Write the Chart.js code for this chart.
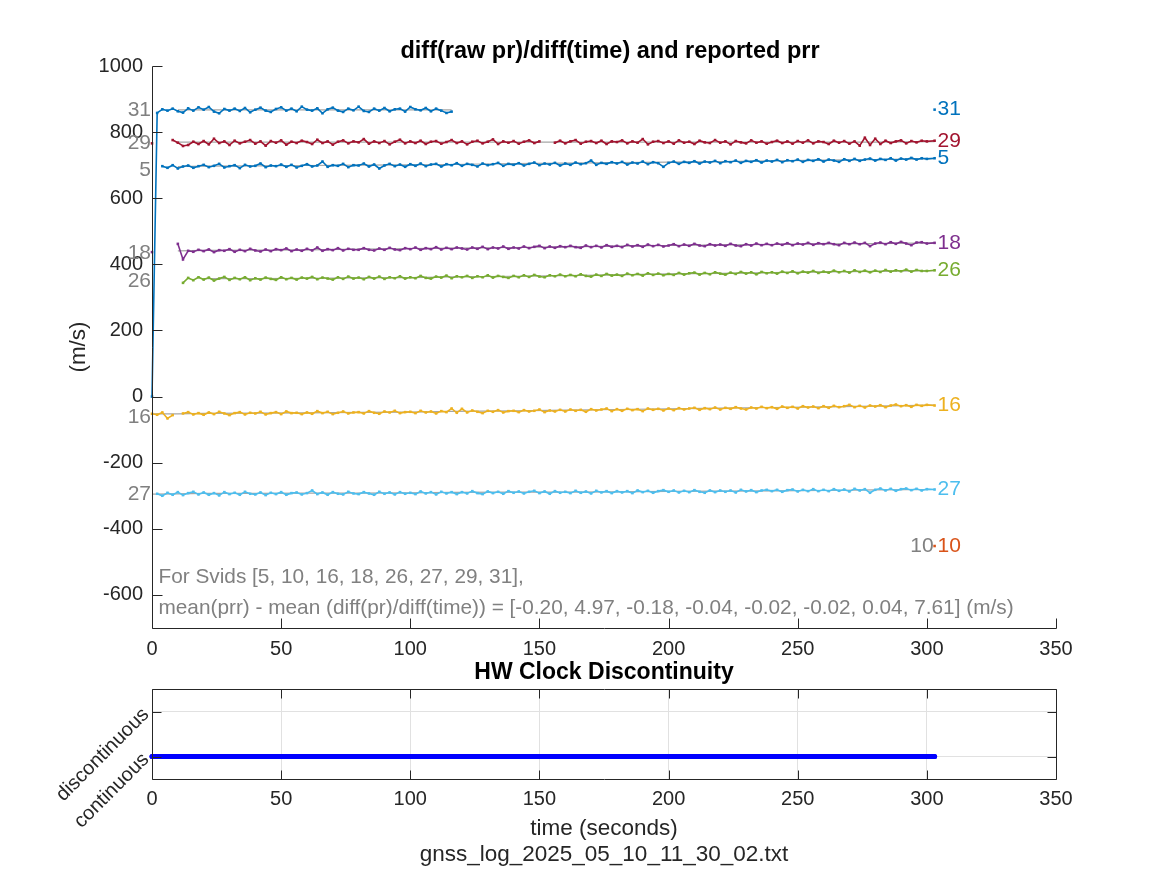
<!DOCTYPE html>
<html><head><meta charset="utf-8">
<script src="https://cdn.jsdelivr.net/npm/chart.js@4.4.1/dist/chart.umd.min.js"></script>
<style>
html,body{margin:0;padding:0;background:#fff;}
#wrap{position:relative;width:1167px;height:875px;overflow:hidden;background:#fff;}
canvas{position:absolute;left:0;}
#c1{top:0;} #c2{top:655px;}
</style></head><body>
<div id="wrap"><canvas id="c1" width="1167" height="662"></canvas><canvas id="c2" width="1167" height="220"></canvas></div>
<script>
const FONT = "'Liberation Sans', Arial, Helvetica, sans-serif";
const topTitle = 'diff(raw pr)/diff(time) and reported prr';
const bottomTitle = 'HW Clock Discontinuity';
const yLabelTop = '(m/s)';
const xLabelBottom = ['time (seconds)', 'gnss_log_2025_05_10_11_30_02.txt'];
const annotLines = ['For Svids [5, 10, 16, 18, 26, 27, 29, 31],',
  'mean(prr) - mean (diff(pr)/diff(time)) = [-0.20, 4.97, -0.18, -0.04, -0.02, -0.02, 0.04, 7.61] (m/s)'];
const annotX = 2.5;
const annotY = [-548, -641];

const xTicks = [0, 50, 100, 150, 200, 250, 300, 350];
const yTicks = [-600, -400, -200, 0, 200, 400, 600, 800, 1000];
const hwTicks = [0, 1];
const hwTickLabels = ['continuous', 'discontinuous'];

const svids = [5, 10, 16, 18, 26, 27, 29, 31];
const colors = ['#0072BD', '#D95319', '#EDB120', '#7E2F8E', '#77AC30', '#4DBEEE', '#A2142F', '#0072BD'];
const leftLabelTime = [0, 303, 0, 0, 0, 0, 0, 0];
const leftLabelValue = [686, -452, -62, 433, 350, -295, 766, 867];

const time = [0,2,4,6,8,10,12,14,16,18,
20,22,24,26,28,30,32,34,36,38,
40,42,44,46,48,50,52,54,56,58,
60,62,64,66,68,70,72,74,76,78,
80,82,84,86,88,90,92,94,96,98,
100,102,104,106,108,110,112,114,116,118,
120,122,124,126,128,130,132,134,136,138,
140,142,144,146,148,150,152,154,156,158,
160,162,164,166,168,170,172,174,176,178,
180,182,184,186,188,190,192,194,196,198,
200,202,204,206,208,210,212,214,216,218,
220,222,224,226,228,230,232,234,236,238,
240,242,244,246,248,250,252,254,256,258,
260,262,264,266,268,270,272,274,276,278,
280,282,284,286,288,290,292,294,296,298,
300,303];

const s5 = [null,null,697,692,700,690,696,699,692,697,
701,694,698,704,693,697,700,691,701,696,
698,705,694,699,697,702,695,701,693,698,
703,696,699,711,695,700,698,704,694,700,
699,705,696,702,690,699,704,697,702,695,
703,698,705,697,702,704,696,703,700,706,
698,704,701,696,705,700,703,707,698,704,
701,706,699,704,708,700,705,702,707,699,
705,701,708,703,706,714,701,707,704,709,
705,710,702,708,705,711,703,709,706,695,
707,711,704,710,707,712,705,711,708,713,
706,712,709,714,707,713,710,715,708,714,
711,716,709,715,712,717,710,716,713,718,
711,717,714,710,718,713,719,713,717,720,
714,719,716,721,714,720,717,722,717,721,
719,721];

const s10 = [null,null,null,null,null,null,null,null,null,null,
null,null,null,null,null,null,null,null,null,null,
null,null,null,null,null,null,null,null,null,null,
null,null,null,null,null,null,null,null,null,null,
null,null,null,null,null,null,null,null,null,null,
null,null,null,null,null,null,null,null,null,null,
null,null,null,null,null,null,null,null,null,null,
null,null,null,null,null,null,null,null,null,null,
null,null,null,null,null,null,null,null,null,null,
null,null,null,null,null,null,null,null,null,null,
null,null,null,null,null,null,null,null,null,null,
null,null,null,null,null,null,null,null,null,null,
null,null,null,null,null,null,null,null,null,null,
null,null,null,null,null,null,null,null,null,null,
null,null,null,null,null,null,null,null,null,null,
null,-452];

const s16 = [-52,-55,-48,-66,-56,null,-51,-47,-54,-50,
-55,-48,-53,-46,-51,-56,-50,-47,-54,-49,
-51,-46,-54,-50,-47,-53,-45,-50,-49,-53,
-48,-52,-44,-50,-46,-53,-49,-45,-51,-48,
-47,-51,-44,-49,-52,-45,-48,-43,-50,-47,
-46,-50,-43,-48,-45,-51,-44,-47,-36,-49,
-37,-48,-42,-46,-50,-43,-46,-41,-48,-44,
-43,-47,-41,-45,-43,-39,-47,-42,-45,-40,
-45,-39,-43,-40,-46,-38,-42,-39,-36,-44,
-38,-43,-37,-41,-38,-44,-36,-40,-37,-42,
-36,-41,-35,-39,-36,-34,-40,-35,-38,-33,
-39,-34,-37,-32,-36,-39,-33,-36,-31,-35,
-32,-37,-30,-34,-31,-36,-29,-33,-30,-35,
-29,-34,-28,-32,-29,-25,-32,-28,-33,-27,
-30,-26,-32,-27,-24,-29,-26,-31,-25,-28,
-25,-27];

const s18 = [437,null,null,null,null,462,415,441,438,444,
440,445,437,443,441,446,438,444,440,447,
442,439,445,440,446,443,448,440,445,441,
447,442,451,441,446,443,449,442,447,444,
444,449,444,442,448,444,450,445,443,449,
446,451,444,449,446,452,445,450,446,451,
448,445,451,447,453,446,451,448,454,447,
451,448,454,449,453,456,449,454,450,455,
452,456,452,450,457,452,456,451,458,453,
456,452,459,454,458,453,460,455,459,454,
457,461,455,460,456,462,457,455,461,457,
460,456,462,457,455,461,457,463,458,462,
458,463,459,464,458,463,460,465,459,464,
461,465,461,458,465,461,466,461,465,455,
463,466,461,467,462,468,463,458,466,467,
463,465];

const s26 = [null,null,null,null,null,null,344,359,352,361,
354,360,351,357,362,353,359,355,361,352,
358,354,360,356,353,361,355,359,354,360,
357,362,355,360,357,354,361,356,363,357,
360,355,362,357,363,356,361,358,364,357,
361,358,365,359,357,363,360,366,358,364,
361,365,359,364,361,367,360,365,362,359,
365,361,367,362,368,363,361,367,364,369,
364,368,364,370,365,363,369,365,371,366,
369,365,372,367,371,366,373,368,372,367,
371,368,374,369,373,375,369,374,370,376,
372,369,375,371,377,372,376,370,377,373,
376,372,378,374,379,373,378,375,380,374,
378,375,381,376,380,375,382,377,381,376,
381,377,383,378,382,379,384,378,383,380,
380,382];

const s27 = [null,-294,-300,-291,-297,-289,-298,-292,-288,-296,
-290,-297,-292,-299,-289,-295,-291,-297,-288,-294,
-296,-290,-298,-291,-295,-289,-297,-292,-290,-296,
-292,-284,-295,-290,-297,-289,-294,-296,-288,-293,
-295,-289,-293,-297,-288,-294,-290,-296,-289,-294,
-291,-295,-287,-293,-289,-296,-288,-293,-289,-295,
-289,-293,-286,-292,-295,-287,-292,-288,-294,-286,
-291,-287,-293,-288,-285,-292,-287,-294,-286,-291,
-288,-292,-285,-291,-287,-293,-285,-290,-286,-292,
-286,-290,-286,-292,-284,-289,-285,-291,-286,-283,
-288,-284,-290,-285,-289,-283,-288,-291,-284,-289,
-284,-288,-284,-290,-282,-287,-283,-289,-284,-282,
-286,-282,-288,-283,-281,-287,-282,-286,-280,-286,
-282,-286,-280,-285,-281,-287,-279,-284,-280,-291,
-282,-278,-284,-279,-285,-280,-278,-283,-279,-284,
-280,-281];

const s29 = [766,null,null,null,776,768,758,761,771,764,
773,763,780,767,772,761,774,766,771,776,
765,772,759,773,768,775,762,771,767,774,
770,764,777,767,772,762,771,775,766,772,
769,779,765,772,767,773,763,771,777,766,
772,767,774,764,771,773,765,770,776,767,
772,763,771,774,766,771,778,764,772,768,
773,765,771,775,767,772,null,null,768,774,
766,772,776,765,771,773,767,774,764,772,
770,775,766,772,768,779,763,771,773,767,
772,765,775,768,771,764,774,769,767,776,
768,772,763,773,769,766,775,768,772,765,
770,774,767,772,765,773,768,775,766,772,
770,764,774,768,773,765,772,759,783,761,
780,764,774,767,772,775,766,773,769,774,
772,774];

const s31 = [0,858,869,865,871,863,859,872,865,875,
868,876,862,857,870,865,871,864,873,860,
868,874,865,861,870,875,865,871,863,877,
868,865,872,857,869,874,865,861,871,866,
877,864,861,871,865,873,863,869,871,862,
876,869,866,873,863,871,865,858,862,null,
null,null,null,null,null,null,null,null,null,null,
null,null,null,null,null,null,null,null,null,null,
null,null,null,null,null,null,null,null,null,null,
null,null,null,null,null,null,null,null,null,null,
null,null,null,null,null,null,null,null,null,null,
null,null,null,null,null,null,null,null,null,null,
null,null,null,null,null,null,null,null,null,null,
null,null,null,null,null,null,null,null,null,null,
null,null,null,null,null,null,null,null,null,null,
null,868];

const prrTime = [0, 10, 20, 40, 60, 80, 100, 116, 140, 160, 180, 200, 220, 240, 260, 280, 303];
const prr5  = [null, 696, 697, 698, 699, 700, 701, 702, 705, 706, 708, 709, 711, 713, 715, 717, 720];
const prr10 = [null, null, null, null, null, null, null, null, null, null, null, null, null, null, null, null, -452];
const prr16 = [-52, -52, -51, -50, -49, -48, -47, -45, -43, -41, -39, -37, -35, -33, -31, -29, -26];
const prr18 = [null, 441, 442, 443, 444, 446, 448, 449, 451, 453, 455, 457, 459, 460, 462, 463, 465];
const prr26 = [null, null, 357, 357, 358, 359, 360, 362, 364, 366, 368, 371, 373, 375, 377, 379, 381];
const prr27 = [-295, -294, -293, -293, -292, -292, -291, -290, -289, -289, -288, -287, -286, -285, -284, -282, -281];
const prr29 = [null, 770, 770, 770, 770, 770, 770, 770, 770, 770, 770, 770, 770, 770, 770, 770, 771];
const prr31 = [null, 867, 867, 867, 867, 867, 867, 867, null, null, null, null, null, null, null, null, null];

const hwTime = [0, 50, 100, 150, 200, 250, 303];
const hwState = [0, 0, 0, 0, 0, 0, 0];

const seriesVals = [s5, s10, s16, s18, s26, s27, s29, s31];
const prrVals = [prr5, prr10, prr16, prr18, prr26, prr27, prr29, prr31];

Chart.defaults.font.family = FONT;
Chart.defaults.color = '#262626';

const toXY = (ts, vs) => ts.map((t, i) => ({x: t, y: vs[i]}));

const datasets = [];
seriesVals.forEach((vals, k) => {
  datasets.push({
    data: toXY(time, vals), borderColor: colors[k], backgroundColor: colors[k],
    borderWidth: 1.6, pointRadius: 1.8, pointStyle: 'rect', pointBorderWidth: 0, pointBackgroundColor: colors[k],
    spanGaps: false, clip: false, tension: 0
  });
});
prrVals.forEach((vals) => {
  datasets.push({
    data: toXY(prrTime, vals), borderColor: '#a6a6a6', borderWidth: 1.2, pointRadius: 0,
    spanGaps: false, clip: false, tension: 0
  });
});

function lastPoint(vals) {
  for (let i = vals.length - 1; i >= 0; i--) if (vals[i] !== null) return {x: time[i], y: vals[i]};
  return null;
}

function px(v) { return Math.round(v) + 0.5; }

const topDecor = {
  id: 'topDecor',
  afterDraw(chart) {
    const {ctx, chartArea: a, scales: {x, y}} = chart;
    ctx.save();
    ctx.strokeStyle = '#262626'; ctx.lineWidth = 1;
    const L = px(a.left), B = px(a.bottom), R = px(a.right), T = px(a.top);
    ctx.beginPath();
    ctx.moveTo(L, T); ctx.lineTo(L, B); ctx.lineTo(R, B);
    x.ticks.forEach(t => { const p = px(x.getPixelForValue(t.value)); ctx.moveTo(p, B); ctx.lineTo(p, B - 10); });
    y.ticks.forEach(t => { const p = px(y.getPixelForValue(t.value)); ctx.moveTo(L, p); ctx.lineTo(L + 10, p); });
    ctx.stroke();
    ctx.fillStyle = '#000'; ctx.font = 'bold 23.5px ' + FONT; ctx.textAlign = 'center'; ctx.textBaseline = 'middle';
    ctx.fillText(topTitle, (a.left + a.right) / 2 + 6, 52);
    ctx.font = '21px ' + FONT;
    svids.forEach((sv, k) => {
      ctx.fillStyle = '#808080'; ctx.textAlign = 'right';
      ctx.fillText(String(sv), x.getPixelForValue(leftLabelTime[k]) - 1, y.getPixelForValue(leftLabelValue[k]));
      const lp = lastPoint(seriesVals[k]);
      if (lp) {
        ctx.fillStyle = colors[k]; ctx.textAlign = 'left';
        ctx.fillText(String(sv), x.getPixelForValue(lp.x) + 3, y.getPixelForValue(lp.y));
      }
    });
    ctx.font = '20.8px ' + FONT;
    ctx.fillStyle = '#808080'; ctx.textAlign = 'left';
    annotLines.forEach((s, i) => ctx.fillText(s, x.getPixelForValue(annotX), y.getPixelForValue(annotY[i])));
    ctx.restore();
  }
};

new Chart(document.getElementById('c1'), {
  type: 'line',
  data: {datasets},
  options: {
    responsive: false, animation: false, events: [],
    layout: {padding: {top: 66, right: 111, left: 0, bottom: 0}},
    plugins: {legend: {display: false}, tooltip: {enabled: false}, title: {display: false}},
    scales: {
      x: {
        type: 'linear', min: 0, max: 350,
        afterBuildTicks: s => { s.ticks = xTicks.map(v => ({value: v})); },
        afterFit: s => { s.height = 34; },
        grid: {display: false, drawTicks: false}, border: {display: false},
        ticks: {padding: 9, color: '#262626', font: {size: 20}, maxRotation: 0, autoSkip: false, callback: v => String(v)}
      },
      y: {
        type: 'linear', min: -700, max: 1000,
        afterBuildTicks: s => { s.ticks = yTicks.map(v => ({value: v})); },
        afterFit: s => { s.width = 152; },
        grid: {display: false, drawTicks: false}, border: {display: false},
        ticks: {padding: 9, color: '#262626', font: {size: 20}, autoSkip: false, callback: v => String(v)},
        title: {display: true, text: yLabelTop, color: '#262626', font: {size: 22.5}, padding: {top: 65, bottom: 0}}
      }
    }
  },
  plugins: [topDecor]
});

const bottomDecor = {
  id: 'bottomDecor',
  afterDraw(chart) {
    const {ctx, chartArea: a, scales: {x, y}} = chart;
    ctx.save();
    ctx.strokeStyle = '#262626'; ctx.lineWidth = 1;
    const L = px(a.left), B = px(a.bottom), R = px(a.right), T = px(a.top);
    ctx.beginPath();
    ctx.rect(L, T, R - L, B - T);
    x.ticks.forEach(t => { const p = px(x.getPixelForValue(t.value)); ctx.moveTo(p, B); ctx.lineTo(p, B - 9); ctx.moveTo(p, T); ctx.lineTo(p, T + 9); });
    y.ticks.forEach(t => { const p = px(y.getPixelForValue(t.value)); ctx.moveTo(L, p); ctx.lineTo(L + 9, p); ctx.moveTo(R, p); ctx.lineTo(R - 9, p); });
    ctx.stroke();
    ctx.fillStyle = '#000'; ctx.font = 'bold 23px ' + FONT; ctx.textAlign = 'center'; ctx.textBaseline = 'middle';
    ctx.fillText(bottomTitle, (a.left + a.right) / 2, 18);
    ctx.restore();
  }
};

new Chart(document.getElementById('c2'), {
  type: 'line',
  data: {datasets: [{
    data: toXY(hwTime, hwState), borderColor: '#0000ff', backgroundColor: '#0000ff',
    borderWidth: 5, borderCapStyle: 'round', pointRadius: 2.5, pointBorderWidth: 0,
    pointBackgroundColor: '#0000ff', clip: false, tension: 0
  }]},
  options: {
    responsive: false, animation: false, events: [],
    layout: {padding: {top: 34, right: 111, left: 0, bottom: 0}},
    plugins: {legend: {display: false}, tooltip: {enabled: false}, title: {display: false}},
    scales: {
      x: {
        type: 'linear', min: 0, max: 350,
        afterBuildTicks: s => { s.ticks = xTicks.map(v => ({value: v})); },
        afterFit: s => { s.height = 96; },
        grid: {display: true, drawTicks: false, color: '#e1e1e1', lineWidth: 1}, border: {display: false},
        ticks: {padding: 8, color: '#262626', font: {size: 20}, maxRotation: 0, autoSkip: false, callback: v => String(v)},
        title: {display: true, text: xLabelBottom, color: '#262626', font: {size: 22.5, lineHeight: 1.17}, padding: {top: 0, bottom: 7}}
      },
      y: {
        type: 'linear', min: -0.5, max: 1.5,
        afterBuildTicks: s => { s.ticks = hwTicks.map(v => ({value: v})); },
        afterFit: s => { s.width = 152; },
        grid: {display: true, drawTicks: false, color: '#e1e1e1', lineWidth: 1}, border: {display: false},
        ticks: {padding: 6, color: '#262626', font: {size: 20}, minRotation: 45, maxRotation: 45, autoSkip: false,
          callback: v => { const i = hwTicks.indexOf(v); return i >= 0 ? hwTickLabels[i] : ''; }}
      }
    }
  },
  plugins: [bottomDecor]
});
</script></body></html>
